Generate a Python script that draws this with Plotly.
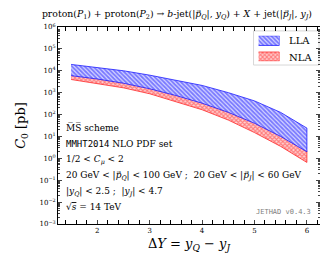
import plotly.graph_objects as go

dY = [1.5, 2.0, 2.5, 3.0, 3.5, 4.0, 4.5, 5.0, 5.5, 6.0]
lla_hi = [19500, 14500, 10000, 6300, 3800, 2140, 1000, 420, 125, 24]
lla_lo = [6000, 4200, 2700, 1500, 740, 330, 126, 40, 10, 2.0]
nla_hi = [6600, 4600, 2950, 1650, 810, 360, 138, 44, 11, 2.2]
nla_lo = [4000, 2630, 1660, 890, 400, 166, 56, 15, 3.5, 0.65]

series_names = ["LLA", "NLA"]

ytickvals = [1e-3, 1e-2, 1e-1, 1, 10, 100, 1e3, 1e4, 1e5, 1e6]
yticktext = ["10<sup>−3</sup>", "10<sup>−2</sup>", "10<sup>−1</sup>", "10<sup>0</sup>", "10<sup>1</sup>",
             "10<sup>2</sup>", "10<sup>3</sup>", "10<sup>4</sup>", "10<sup>5</sup>", "10<sup>6</sup>"]
xtickvals = [2, 3, 4, 5, 6]
yminor = [m * 10 ** e for e in range(-3, 6) for m in range(2, 10)]

SERIF = "DejaVu Serif"
MONO = "DejaVu Sans Mono"
PVEC = "<i>p</i>\u20d7"

BLUE, BLUE_BG = "rgb(25,25,255)", "rgb(215,215,255)"
RED, RED_BG = "rgb(255,40,40)", "rgb(255,210,210)"

# plot area in pixels
L, R, T, B = 40, 312, 19, 221
W, H = R - L, B - T


def px(x):
    return (x - L) / W


def py(y):
    return 1 - (y - T) / H


fig = go.Figure()


def band(xs, hi, lo, name, color, bg, shape, xa="x", ya="y"):
    fig.add_trace(go.Scatter(
        x=list(xs) + list(xs)[::-1],
        y=list(hi) + list(lo)[::-1],
        fill="toself", mode="lines", name=name, xaxis=xa, yaxis=ya,
        line=dict(color=color, width=0.8),
        fillcolor=bg, showlegend=False, hoverinfo="skip",
        fillpattern=dict(shape=shape, fgcolor=color, bgcolor=bg, size=3, solidity=0.6),
    ))


band(dY, nla_hi, nla_lo, series_names[1], RED, RED_BG, "x")
band(dY, lla_hi, lla_lo, series_names[0], BLUE, BLUE_BG, "\\")

# minor y ticks via an overlaid axis
fig.add_trace(go.Scatter(x=[None], y=[None], yaxis="y2", showlegend=False, hoverinfo="skip"))

# manual legend: swatches drawn in an inset unit axis
band([0, 1], [1.0, 1.0], [0.62, 0.62], series_names[0], BLUE, BLUE_BG, "\\", "x2", "y3")
band([0, 1], [0.36, 0.36], [0.0, 0.0], series_names[1], RED, RED_BG, "x", "x2", "y3")

fig.add_shape(type="rect", xref="paper", yref="paper", x0=px(243), x1=px(311),
              y0=py(58), y1=py(23), line=dict(color="rgb(215,215,215)", width=1),
              fillcolor="white", layer="below")
for nm, ypix in zip(series_names, [33, 50]):
    fig.add_annotation(text=nm, xref="paper", yref="paper", x=px(278), y=py(ypix),
                       xanchor="left", yanchor="middle", showarrow=False,
                       font=dict(family=SERIF, size=10, color="black"))

anns = [
    ("M\u0305S\u0305 scheme", 122),
    ("<span style='font-family:" + MONO + "'>MMHT2014</span> NLO PDF set", 139),
    ("1/2 &lt; <i>C</i><sub><i>μ</i></sub> &lt; 2", 155),
    ("20 GeV &lt; |" + PVEC + "<sub><i>Q</i></sub>| &lt; 100 GeV ;  20 GeV &lt; |" + PVEC + "<sub><i>J</i></sub>| &lt; 60 GeV", 172),
    ("|<i>y</i><sub><i>Q</i></sub>| &lt; 2.5 ;  |<i>y</i><sub><i>J</i></sub>| &lt; 4.7", 188),
    ("√<span style='text-decoration:overline'><i>s</i></span> = 14 TeV", 204),
]
for txt, ypix in anns:
    fig.add_annotation(text=txt, xref="paper", yref="paper", x=px(46),
                       y=py(ypix), xanchor="left", yanchor="middle",
                       showarrow=False, font=dict(family=SERIF, size=9, color="black"))

fig.add_annotation(text="JETHAD v0.4.3", xref="paper", yref="paper", x=px(305),
                   y=py(209), xanchor="right", yanchor="middle", showarrow=False,
                   font=dict(family=MONO, size=7, color="gray"))

axcommon = dict(showline=True, linecolor="black", linewidth=1, showgrid=False, zeroline=False)
hidden = dict(visible=False, showgrid=False, zeroline=False, fixedrange=True)

fig.update_layout(
    width=328, height=253,
    margin=dict(l=L, r=328 - R, t=T, b=253 - B),
    paper_bgcolor="white", plot_bgcolor="white",
    title=dict(text="proton(<i>P</i><sub>1</sub>) + proton(<i>P</i><sub>2</sub>) → <i>b</i>-jet(|" + PVEC + "<sub><i>Q</i></sub>|, <i>y</i><sub><i>Q</i></sub>) + <i>X</i> + jet(|" + PVEC + "<sub><i>J</i></sub>|, <i>y</i><sub><i>J</i></sub>)",
               xref="container", x=0.515, xanchor="center", y=0.99, yanchor="top",
               font=dict(family=SERIF, size=9.3, color="black")),
    showlegend=False,
    xaxis=dict(range=[1.25, 6.25], tickvals=xtickvals, ticks="inside", ticklen=4,
               mirror="allticks", **axcommon,
               tickfont=dict(family=SERIF, size=7, color="black"),
               minor=dict(ticks="inside", ticklen=2, dtick=0.2, tick0=0, tickcolor="black"),
               title=dict(text="Δ<i>Y</i> = <i>y</i><sub><i>Q</i></sub> − <i>y</i><sub><i>J</i></sub>",
                          font=dict(family=SERIF, size=13, color="black"), standoff=4)),
    yaxis=dict(type="log", range=[-3, 6], tickvals=ytickvals, ticktext=yticktext,
               ticks="inside", ticklen=4, mirror="allticks", **axcommon,
               tickfont=dict(family=SERIF, size=7, color="black"),
               title=dict(text="<i>C</i><sub>0</sub> [pb]",
                          font=dict(family=SERIF, size=13, color="black"), standoff=10)),
    yaxis2=dict(type="log", range=[-3, 6], overlaying="y", tickvals=yminor, ticks="inside",
                ticklen=2, mirror="allticks", showticklabels=False, **axcommon),
    xaxis2=dict(domain=[px(248), px(270)], range=[0, 1], anchor="y3", **hidden),
    yaxis3=dict(domain=[py(54), py(28)], range=[0, 1], anchor="x2", **hidden),
)

fig.write_html("out.html")
